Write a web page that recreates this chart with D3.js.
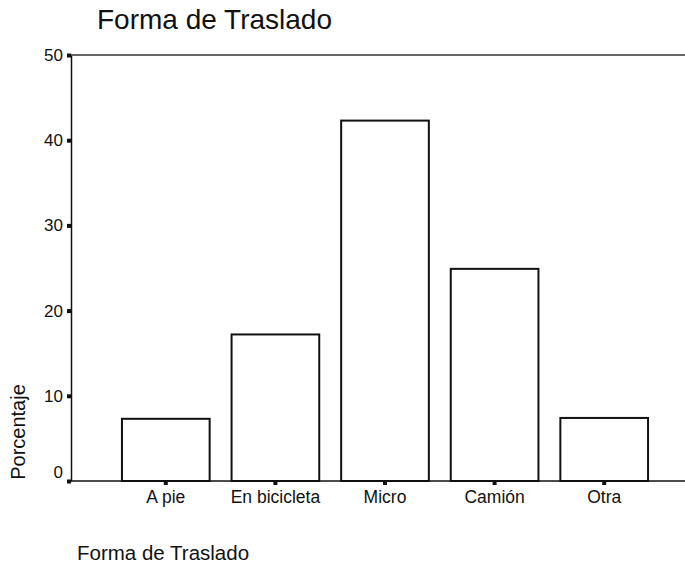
<!DOCTYPE html>
<html><head><meta charset="utf-8">
<script src="https://cdn.jsdelivr.net/npm/d3@7"></script>
<style>body{margin:0;background:#fff}svg{display:block;font-family:"Liberation Sans",Arial,sans-serif}</style>
</head><body><svg id="c" width="685" height="567"></svg>
<script>
const categories = ["A pie","En bicicleta","Micro","Camión","Otra"];
const values = [7.3, 17.2, 42.3, 24.9, 7.4];
const yTicks = [0,10,20,30,40,50];
const title = "Forma de Traslado";
const xTitle = "Forma de Traslado";
const yTitle = "Porcentaje";

const svg = d3.select("#c");
const y = d3.scaleLinear().domain([0,50]).range([481,55]);
const x = d3.scaleBand().domain(categories).range([111,659]).paddingInner(0.2).paddingOuter(0.1);
const axX = 71;

svg.append("text").attr("x",97).attr("y",29).attr("font-size",28).attr("fill","#111").text(title);

// top frame line
svg.append("line").attr("x1",axX).attr("x2",685).attr("y1",y(50)).attr("y2",y(50)).attr("stroke","#333").attr("stroke-width",1.5);

// bars
svg.selectAll("rect.bar").data(values).enter().append("rect")
  .attr("x",(d,i)=>x(categories[i])).attr("width",x.bandwidth())
  .attr("y",d=>y(d)).attr("height",d=>y(0)-y(d))
  .attr("fill","#fff").attr("stroke","#111").attr("stroke-width",2);

// y axis
const yAxis = d3.axisLeft(y).tickValues(yTicks).tickSize(0).tickPadding(8);
const gy = svg.append("g").attr("transform",`translate(${axX},0)`).call(yAxis);
gy.select(".domain").attr("stroke","#111").attr("stroke-width",1.5);
gy.selectAll("text").attr("font-size",17).attr("fill","#111").attr("font-family","Liberation Sans, Arial, sans-serif");
gy.selectAll(".tick").filter(d=>d===0).select("text").attr("dy","-0.2em");
gy.selectAll(".tick").append("rect").attr("x",-4).attr("y",-2).attr("width",4).attr("height",4).attr("fill","#111");

// x axis
const xAxis = d3.axisBottom(x).tickSize(0).tickPadding(10);
const gx = svg.append("g").attr("transform",`translate(0,${y(0)})`).call(xAxis);
gx.select(".domain").remove();
gx.append("line").attr("x1",axX).attr("x2",685).attr("stroke","#111").attr("stroke-width",1.5);
gx.selectAll("text").attr("font-size",17.5).attr("fill","#111").attr("font-family","Liberation Sans, Arial, sans-serif");
gx.selectAll(".tick").append("rect").attr("x",-2).attr("y",0).attr("width",4).attr("height",4).attr("fill","#111");

svg.append("text").attr("transform","translate(25,432) rotate(-90)").attr("text-anchor","middle")
  .attr("font-size",20).attr("fill","#111").text(yTitle);
svg.append("text").attr("x",77).attr("y",560).attr("font-size",20.5).attr("fill","#111").text(xTitle);
</script></body></html>
